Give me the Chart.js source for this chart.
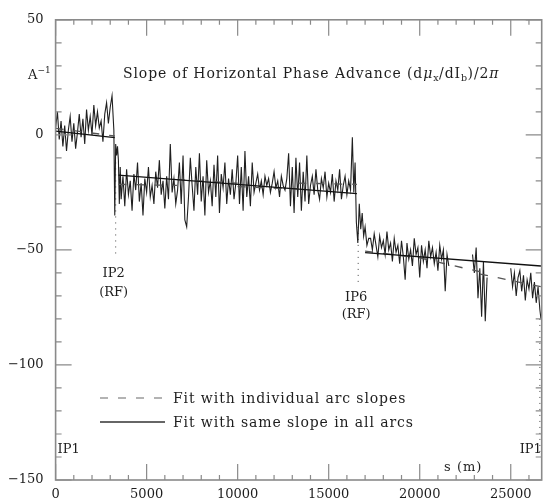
<!DOCTYPE html>
<html><head><meta charset="utf-8">
<script src="https://cdn.jsdelivr.net/npm/chart.js@4.4.0/dist/chart.umd.min.js"></script>
<style>html,body{margin:0;padding:0;background:#fff}#wrap{width:545px;height:501px;position:relative}</style>
</head><body><div id="wrap"><canvas id="c" width="545" height="501"></canvas></div>
<script>
// ---------------- data (s in metres, slope in A^-1) ----------------
const xTicks = [0, 5000, 10000, 15000, 20000, 25000];
const yTicks = [-150, -100, -50, 0, 50];

// measured slope, blocks of equally spaced BPM readings
const arc1Start = 0,     arc1Vals = [3, 10, -2, 6, -5, 4, -7, 2, 8, -3, 5, -6, 1, 9, -1, 7, -4, 11, 2, 8, 0, 13, 4, 10, 3, 6, -3, 9, 14, 5, 12, 17, 2];
const ip2S = [3250, 3300, 3350, 3400, 3450, 3500, 3550];
const ip2Vals = [-35, -4, -9, -5, -11, -30, -14];
const arc2Start = 3600, arc2Vals = [
  -28, -18, -31, -15, -26, -20, -33, -17, -24, -12, -29, -21, -35, -19, -25, -14, -27, -22, -30, -16, -23, -11, -26, -20, -32, -18, -28, -4, -25, -19, -30,
  -24, -12, -30, -9, -37, -40, -27, -10, -22, -33, -14, -26, -8, -29, -18, -35, -11, -25, -20, -31, -13, -27, -9, -34, -17, -23, -12, -30, -19, -26, -15, -28, -21,
  -9, -30, -14, -33, -7, -27, -18, -31, -12, -25, -21, -17, -24, -20, -26, -18, -22, -19, -25, -21, -16, -23, -20, -27, -18, -22, -24, -19, -8, -31, -14, -34, -10,
  -27, -12, -33, -16, -29, -9, -30, -22, -18, -26, -15, -24, -28, -19, -23, -16, -27, -21, -25, -17, -29, -20, -24, -15, -28, -22, -18, -26, -20, -24];
const ip6S = [16300, 16380, 16450, 16520, 16600, 16680, 16760, 16840, 16920, 17000, 17100, 17200];
const ip6Vals = [-1, -25, -12, -38, -47, -30, -41, -34, -44, -40, -48, -45];
const arc3Start = 17300, arc3Vals = [
  -45, -50, -43, -48, -53, -44, -49, -46, -52, -42, -50, -47, -55, -45, -51, -48, -56, -46, -53, -63, -47, -54,
  -50, -57, -45, -52, -49, -62, -48, -55, -50, -58, -46, -53, -49, -56, -51, -59, -48, -54, -50, -68, -52, -57];
const ip8Start = 22900, ip8Vals = [-52, -60, -49, -71, -58, -79, -55, -81, -62];
const arc4Start = 25000, arc4Vals = [-58, -66, -60, -70, -62, -59, -68, -61, -72, -63, -67, -60, -71, -64, -73, -66, -76];
const endS = 26659, endVal = -80;
const blockStep = 100;

// fit with same slope in all arcs (solid)
const fitSameS = [0, 3250, null, 3450, 16550, null, 17000, 26659];
const fitSameV = [1.6, -1.2, null, -17.5, -25.5, null, -51.2, -57];
// fit with individual arc slopes (dashed)
const fitArcS = [0, 3250, null, 3450, 6664, null, 6664, 9997, null, 9997, 13329, null, 13329, 16550, null, 17000, 19994, null, 19994, 23315, null, 23315, 26659];
const fitArcV = [2.8, -0.5, null, -21.5, -22, null, -19.5, -21, null, -22.5, -23.5, null, -21, -21.5, null, -50.5, -53.5, null, -53.5, -59.5, null, -60.5, -66];

// interaction points
const ipLabels = ["IP1", "IP2", "IP6", "IP1"];
const ipPos = [0, 3300, 16620, 26600];
const ipDotTop = [null, -12, -40, -80];
const ipDotBottom = [null, -53, -64, -139];

// ---------------- build ----------------
function block(start, vals) { return vals.map((v, i) => ({x: start + i * blockStep, y: v})); }
const measured = [].concat(
  block(arc1Start, arc1Vals),
  ip2S.map((s, i) => ({x: s, y: ip2Vals[i]})),
  block(arc2Start, arc2Vals),
  ip6S.map((s, i) => ({x: s, y: ip6Vals[i]})),
  block(arc3Start, arc3Vals),
  [{x: 22200, y: null}],
  block(ip8Start, ip8Vals),
  [{x: 24300, y: null}],
  block(arc4Start, arc4Vals),
  [{x: endS, y: endVal}]
);
function pairs(xs, ys) { return xs.map((x, i) => x === null ? {x: (xs[i-1]+xs[i+1])/2, y: null} : {x: x, y: ys[i]}); }

const dotted = [];
ipPos.forEach((p, i) => { if (ipDotTop[i] !== null) { dotted.push({x: p, y: ipDotTop[i]}, {x: p, y: ipDotBottom[i]}, {x: p + 1, y: null}); } });

const SERIF = '"DejaVu Serif", "Liberation Serif", serif';
const TXT = '#1e1e1e';

function runWidth(ctx, r) {
  ctx.font = (r.italic ? 'italic ' : '') + r.size + 'px ' + SERIF;
  let w = 0; const sp = r.sp || 0;
  for (const ch of r.t) w += ctx.measureText(ch).width + sp;
  return w;
}
function drawRuns(ctx, x, y, runs, align) {
  let total = 0;
  runs.forEach(r => { r.w = runWidth(ctx, r); total += r.w; });
  let cx = align === 'center' ? x - total / 2 : (align === 'right' ? x - total : x);
  ctx.textAlign = 'left'; ctx.textBaseline = 'alphabetic';
  runs.forEach(r => {
    ctx.font = (r.italic ? 'italic ' : '') + r.size + 'px ' + SERIF;
    const sp = r.sp || 0;
    for (const ch of r.t) { ctx.fillText(ch, cx, y + (r.dy || 0)); cx += ctx.measureText(ch).width + sp; }
  });
}

const deco = {
  id: 'deco',
  afterDatasetsDraw(chart) {
    const ctx = chart.ctx, a = chart.chartArea, xs = chart.scales.x, ys = chart.scales.y;
    ctx.save();
    // frame
    ctx.strokeStyle = '#8a8a8a'; ctx.lineWidth = 1.6;
    ctx.strokeRect(a.left, a.top, a.right - a.left, a.bottom - a.top);
    ctx.lineWidth = 1.2;
    ctx.beginPath();
    for (let v = 0; v <= xs.max; v += 1000) {
      const px = xs.getPixelForValue(v), len = (v % 5000 === 0) ? 16 : 5;
      ctx.moveTo(px, a.bottom); ctx.lineTo(px, a.bottom - len);
      ctx.moveTo(px, a.top); ctx.lineTo(px, a.top + len);
    }
    for (let v = ys.min; v <= ys.max; v += 10) {
      const py = ys.getPixelForValue(v), len = (v % 50 === 0) ? 16 : 6;
      ctx.moveTo(a.left, py); ctx.lineTo(a.left + len, py);
      ctx.moveTo(a.right, py); ctx.lineTo(a.right - len, py);
    }
    ctx.stroke();

    ctx.fillStyle = TXT;
    // title
    drawRuns(ctx, 123, 78, [
      {t: 'Slope of Horizontal Phase Advance (d', size: 14, sp: 0.9},
      {t: 'μ', size: 14, italic: true, sp: 0.9},
      {t: 'x', size: 9.5, dy: 3, sp: 0.5},
      {t: '/dI', size: 14, sp: 0.9},
      {t: 'b', size: 9.5, dy: 3, sp: 0.5},
      {t: ')/2', size: 14, sp: 0.9},
      {t: 'π', size: 14, italic: true}
    ], 'left');
    // unit
    drawRuns(ctx, 28, 79, [{t: 'A', size: 13}, {t: '−1', size: 9, dy: -6}], 'left');

    // IP labels
    ctx.font = '13px ' + SERIF; ctx.textBaseline = 'middle';
    ctx.textAlign = 'center';
    [[1, -60.3, -68.5], [2, -70.6, -78.3]].forEach(([i, y1, y2]) => {
      const px = xs.getPixelForValue(ipPos[i]);
      ctx.fillText(ipLabels[i], px - 2, ys.getPixelForValue(y1));
      ctx.fillText('(RF)', px - 2, ys.getPixelForValue(y2));
    });
    ctx.textAlign = 'left';
    ctx.fillText(ipLabels[0], xs.getPixelForValue(ipPos[0]) + 2, ys.getPixelForValue(-136.7));
    ctx.textAlign = 'right';
    ctx.fillText(ipLabels[3], xs.getPixelForValue(ipPos[3]) + 2, ys.getPixelForValue(-136.7));
    drawRuns(ctx, xs.getPixelForValue(22390), ys.getPixelForValue(-144) + 5, [{t: 's (m)', size: 13, sp: 1}], 'center');

    // legend
    ctx.lineWidth = 1.3;
    ctx.strokeStyle = '#9a9a9a'; ctx.setLineDash([8, 10]);
    ctx.beginPath(); ctx.moveTo(100, 398); ctx.lineTo(166, 398); ctx.stroke();
    ctx.setLineDash([]); ctx.strokeStyle = '#333';
    ctx.beginPath(); ctx.moveTo(100, 422); ctx.lineTo(165, 422); ctx.stroke();
    ctx.fillStyle = TXT;
    drawRuns(ctx, 173, 403, [{t: 'Fit with individual arc slopes', size: 14, sp: 0.9}], 'left');
    drawRuns(ctx, 173, 427, [{t: 'Fit with same slope in all arcs', size: 14, sp: 0.9}], 'left');
    ctx.restore();
  }
};

new Chart(document.getElementById('c').getContext('2d'), {
  type: 'scatter',
  data: {
    datasets: [
      {data: measured, showLine: true, borderColor: '#202020', borderWidth: 1.1, pointRadius: 0, spanGaps: false, order: 3},
      {data: pairs(fitSameS, fitSameV), showLine: true, borderColor: '#111', borderWidth: 1.3, pointRadius: 0, spanGaps: false, order: 1},
      {data: pairs(fitArcS, fitArcV), showLine: true, borderColor: '#555', borderWidth: 1.3, borderDash: [8, 10], pointRadius: 0, spanGaps: false, order: 2},
      {data: dotted, showLine: true, borderColor: '#444', borderWidth: 1, borderDash: [1, 5], pointRadius: 0, spanGaps: false, order: 4}
    ]
  },
  options: {
    responsive: false, animation: false, events: [],
    layout: {padding: {top: 14, right: 3.3, left: 0, bottom: 0}},
    plugins: {legend: {display: false}, tooltip: {enabled: false}, title: {display: false}},
    scales: {
      x: {
        type: 'linear', min: 0, max: 26700,
        grid: {display: false, drawTicks: false}, border: {display: false},
        afterBuildTicks: s => { s.ticks = xTicks.map(v => ({value: v})); },
        ticks: {font: {family: SERIF, size: 13}, color: TXT, padding: 7, maxRotation: 0, autoSkip: false,
                callback: v => String(v)},
        afterFit: s => { s.height = 21; }
      },
      y: {
        type: 'linear', min: -150, max: 50,
        grid: {display: false, drawTicks: false}, border: {display: false},
        afterBuildTicks: s => { s.ticks = yTicks.map(v => ({value: v})); },
        ticks: {font: {family: SERIF, size: 13}, color: TXT, padding: 12, autoSkip: false,
                callback: v => v < 0 ? '−' + Math.abs(v) : String(v)},
        afterFit: s => { s.width = 55.6; }
      }
    }
  },
  plugins: [deco]
});
</script>
</body></html>
